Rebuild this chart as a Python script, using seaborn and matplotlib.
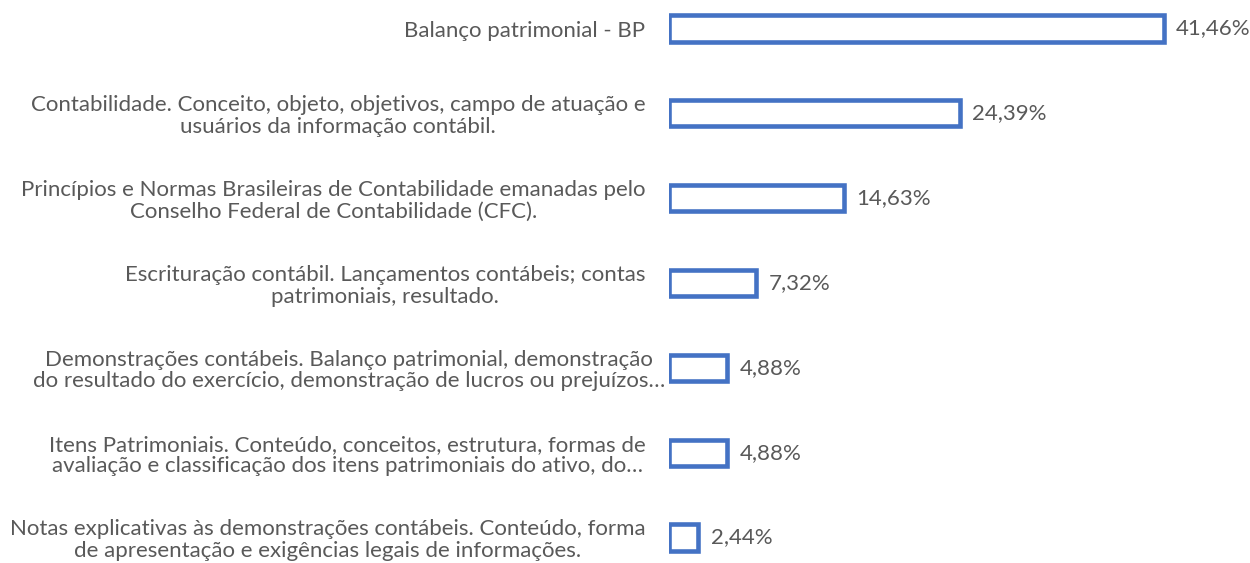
import matplotlib
matplotlib.use("Agg")
import matplotlib.pyplot as plt
import matplotlib.transforms as mtransforms
import seaborn as sns
import pandas as pd

categories = [
    "Balanço patrimonial - BP",
    "Contabilidade. Conceito, objeto, objetivos, campo de atuação e\nusuários da informação contábil.",
    "Princípios e Normas Brasileiras de Contabilidade emanadas pelo\nConselho Federal de Contabilidade (CFC).",
    "Escrituração contábil. Lançamentos contábeis; contas\npatrimoniais, resultado.",
    "Demonstrações contábeis. Balanço patrimonial, demonstração\ndo resultado do exercício, demonstração de lucros ou prejuízos…",
    "Itens Patrimoniais. Conteúdo, conceitos, estrutura, formas de\navaliação e classificação dos itens patrimoniais do ativo, do…",
    "Notas explicativas às demonstrações contábeis. Conteúdo, forma\nde apresentação e exigências legais de informações.",
]
values = [41.46, 24.39, 14.63, 7.32, 4.88, 4.88, 2.44]
value_labels = ["41,46%", "24,39%", "14,63%", "7,32%", "4,88%", "4,88%", "2,44%"]

sns.set_style("white")
plt.rcParams['font.family'] = ['Lato', 'DejaVu Sans']

fig = plt.figure(figsize=(12.5, 5.63), dpi=100)
x0 = 669
ax = fig.add_axes([x0/1250, 0, 1 - x0/1250, 1])

df = pd.DataFrame({"cat": categories, "val": values})
sns.barplot(data=df, x="val", y="cat", orient="h", color="white", saturation=1,
            edgecolor="#4472C4", linewidth=3.3, width=0.31, ax=ax)

ax.set_xlim(0, (1250 - x0) / 1193 * 100)
ax.set_ylim(6 + 25.5/84.8, -28.5/84.8)
for s in ax.spines.values():
    s.set_visible(False)
ax.set_xticks([])
ax.set_xlabel("")
ax.set_ylabel("")
ax.tick_params(axis="y", length=0, pad=17)
ax.set_yticks(range(len(categories)))
ax.set_yticklabels(categories, fontsize=16, color="#595959",
                   multialignment="center", linespacing=1.1)

# the overflowing truncated label sticks out past the others
lbl = ax.get_yticklabels()[4]
lbl.set_transform(lbl.get_transform() + mtransforms.ScaledTranslation(0.2, 0, fig.dpi_scale_trans))

for container in ax.containers:
    ax.bar_label(container, labels=value_labels, padding=9, fontsize=16, color="#595959")

fig.savefig("out.png", dpi=100)
